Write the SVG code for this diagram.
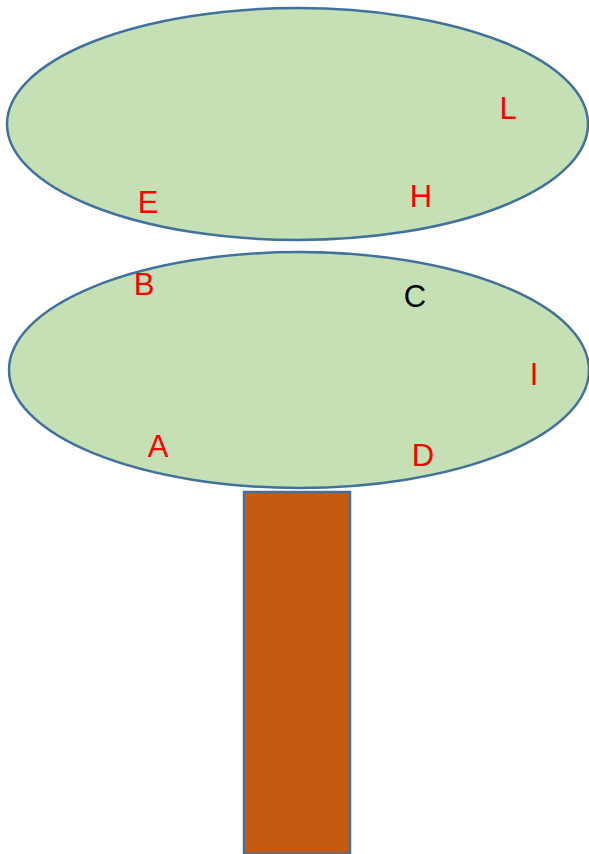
<svg xmlns="http://www.w3.org/2000/svg" width="589" height="854" viewBox="0 0 589 854">
<style>
.leaf{fill:#C5E0B4;stroke:#41719C;stroke-width:2.5}
.trunk{fill:#C55A11;stroke:#41719C;stroke-width:2.5}
.lbl{font-family:"Liberation Sans",Arial,sans-serif;font-size:31px;text-anchor:middle;fill:#FF0000}
.blk{fill:#000000}
</style>
<rect width="589" height="854" fill="#ffffff"/>
<g id="trunk"><rect class="trunk" x="244" y="492" width="106" height="362"/></g>
<g id="crown-bottom"><ellipse class="leaf" cx="299" cy="370" rx="290" ry="118"/></g>
<g id="crown-top"><ellipse class="leaf" cx="297.5" cy="124" rx="290.5" ry="116"/></g>
<g id="labels">
<g id="E"><text class="lbl" x="148" y="213">E</text></g>
<g id="L"><text class="lbl" x="508" y="119">L</text></g>
<g id="H"><text class="lbl" x="421" y="207">H</text></g>
<g id="B"><text class="lbl" x="144" y="295">B</text></g>
<g id="C"><text class="lbl blk" x="415" y="307">C</text></g>
<g id="I"><text class="lbl" x="534" y="385">I</text></g>
<g id="A"><text class="lbl" x="158" y="457">A</text></g>
<g id="D"><text class="lbl" x="423" y="466">D</text></g>
</g>
<g id="connectors"></g>
</svg>
